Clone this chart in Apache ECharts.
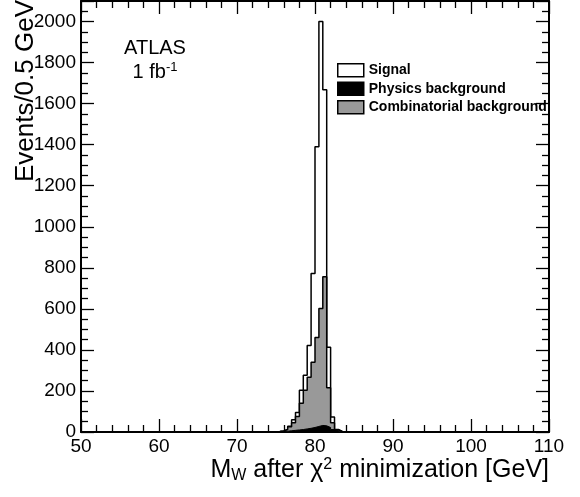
<!DOCTYPE html>
<html><head><meta charset="utf-8">
<script src="https://cdn.jsdelivr.net/npm/echarts@6/dist/echarts.min.js"></script>
<style>html,body{margin:0;padding:0;background:#fff}#c{width:580px;height:497px}</style>
</head><body><div id="c"></div>
<script>
// bin lower edges (GeV), bin width 0.5
const binLow = [75.0,75.5,76.0,76.5,77.0,77.5,78.0,78.5,79.0,79.5,80.0,80.5,81.0,81.5,82.0,82.5,83.0];
const binWidth = 0.5;
const physicsBkg = [1,2,4,6,8,10,12,15,18,22,27,32,30,22,12,5,2];
const combBkg    = [1,3,8,19,37,65,128,189,249,318,434,570,727,193,33,5,1];
const signal     = [0,0,0,3,15,20,64,73,155,432,929,1398,911,198,28,2,0];
const seriesNames = ['Signal','Physics background','Combinatorial background'];

function stepData(vals){
  const d=[[binLow[0],0]];
  vals.forEach((v,i)=>d.push([binLow[i],v]));
  d.push([binLow[binLow.length-1]+binWidth,0]);
  return d;
}
const lvl1 = physicsBkg.slice();
const lvl2 = physicsBkg.map((v,i)=>v+combBkg[i]);
const lvl3 = lvl2.map((v,i)=>v+signal[i]);

const FONT='Liberation Sans';
const chart=echarts.init(document.getElementById('c'),null,{renderer:'canvas'});
function mkAxis(type, pos, minv, maxv, itv, minorSplit, showLabel, grid){
  return {
    gridIndex:grid, type:'value', position:pos, min:minv, max:maxv, interval:itv,
    axisLine:{show:true,lineStyle:{color:'#000',width:2}},
    axisTick:{show:true,inside:true,length:13,lineStyle:{color:'#000',width:1.3}},
    minorTick:{show:true,splitNumber:minorSplit,length:7,lineStyle:{color:'#000',width:1.3}},
    splitLine:{show:false},
    axisLabel: showLabel ? {show:true,fontFamily:FONT,fontSize:19,color:'#000',margin:5,showMaxLabel: type==='y'?false:true,
      formatter:function(v){return String(v);}} : {show:false}
  };
}
const gridBox={left:81,right:31,top:1,bottom:65,containLabel:false};
chart.setOption({
  animation:false,
  grid:[Object.assign({},gridBox),Object.assign({},gridBox)],
  legend:{
    left:332, top:58, orient:'vertical', itemWidth:26, itemHeight:13, itemGap:4,
    textStyle:{fontFamily:FONT,fontWeight:'bold',fontSize:14,color:'#000'},
    data:[
      {name:'Signal',icon:'rect',itemStyle:{color:'#fff',borderColor:'#000',borderWidth:1.5}},
      {name:'Physics background',icon:'rect',itemStyle:{color:'#000',borderColor:'#000',borderWidth:1.5}},
      {name:'Combinatorial background',icon:'rect',itemStyle:{color:'#999',borderColor:'#000',borderWidth:1.5}}
    ]
  },
  xAxis:[ mkAxis('x','bottom',50,110,10,5,true,0), mkAxis('x','top',50,110,10,5,false,1) ],
  yAxis:[ mkAxis('y','left',0,2100,200,4,true,0), mkAxis('y','right',0,2100,200,4,false,0),
          {gridIndex:1,type:'value',min:1,max:2,show:false} ],
  series:[
    {name:'Signal',type:'line',step:'end',symbol:'none',data:stepData(lvl3),z:2,
      lineStyle:{color:'#000',width:1.5},areaStyle:{color:'#fff',opacity:1},itemStyle:{color:'#fff'}},
    {name:'Combinatorial background',type:'line',step:'end',symbol:'none',data:stepData(lvl2),z:3,
      lineStyle:{color:'#000',width:1.5},areaStyle:{color:'#999',opacity:1},itemStyle:{color:'#999'}},
    {name:'Physics background',type:'line',step:'end',symbol:'none',data:stepData(lvl1),z:4,
      lineStyle:{color:'#000',width:1},areaStyle:{color:'#000',opacity:1},itemStyle:{color:'#000'}}
  ],
  graphic:[
    {type:'text',x:26,y:0,rotation:Math.PI/2,z:10,style:{text:'Events/0.5 GeV',font:'26px "Liberation Sans"',fill:'#000',textAlign:'right',textVerticalAlign:'middle'}},
    {type:'text',right:31,top:457,z:10,style:{
      text:'{a|M}{sub|W}{a| after χ}{sup|2}{a| minimization [GeV]}',
      rich:{a:{fontFamily:FONT,fontSize:25,color:'#000'},
            sub:{fontFamily:FONT,fontSize:16,color:'#000',padding:[11,0,0,0]},
            sup:{fontFamily:FONT,fontSize:16,color:'#000',padding:[0,0,11,0]}}}},
    {type:'text',x:155,y:48,z:10,style:{text:'ATLAS',font:'20px "Liberation Sans"',fill:'#000',textAlign:'center',textVerticalAlign:'middle'}},
    {type:'text',x:155,y:72,z:10,style:{text:'{a|1 fb}{sup|-1}',textAlign:'center',textVerticalAlign:'middle',
      rich:{a:{fontFamily:FONT,fontSize:20,color:'#000'},sup:{fontFamily:FONT,fontSize:13,color:'#000',padding:[0,0,9,0]}}}}
  ]
});
</script></body></html>
